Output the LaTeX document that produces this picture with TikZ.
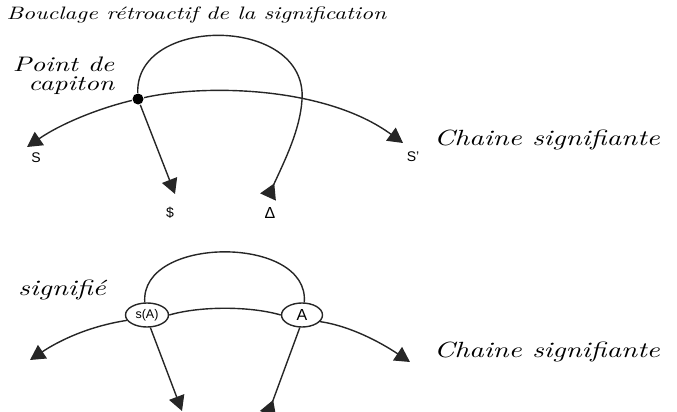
\documentclass[tikz,border=0pt]{standalone}
\usepackage{fontspec}
\setsansfont{Liberation Sans}
\newfontfamily\calfont{lmroman10-italic.otf}[FakeStretch=1.3]
\usetikzlibrary{arrows.meta,shapes.geometric}
\begin{document}
\begin{tikzpicture}[x=1pt,y=-1pt,
  line width=1.4pt, draw=black!85,
  cal/.style={font=\calfont\fontsize{22}{20}\selectfont, inner sep=0pt},
  ttl/.style={font=\calfont\fontsize{18}{20}\selectfont, inner sep=0pt},
  lab/.style={font=\sffamily\fontsize{14}{15}\selectfont, inner sep=0pt},
  tri/.style={-{Triangle[length=15pt,width=16pt]}},
  rtri/.style={{Triangle[reversed,length=15pt,width=17pt]}-},
  knot/.style={ellipse, draw, line width=1.4pt, fill=white, inner sep=0pt, font=\sffamily\fontsize{12.5}{13}\selectfont}
]
\useasboundingbox (0,0) rectangle (677,412);
% texts
\node[ttl, anchor=west] (title) at (6,15) {Bouclage rétroactif de la signification};
\node[cal, align=right, anchor=north east, font=\calfont\fontsize{21}{19}\selectfont] (pd) at (115,56) {Point de\\capiton};
\node[cal] (ch1) at (547,140) {Chaine signifiante};
\node[cal] (sig) at (62,290) {signifié};
\node[cal] (ch2) at (547,352) {Chaine signifiante};
% top diagram
\node[circle, fill=black, inner sep=0pt, minimum size=11pt] (pc) at (138,99) {};
\coordinate (sl) at (27,147);
\coordinate (sr) at (403,143);
\coordinate (sb) at (175,194);
\coordinate (db) at (268,197);
\coordinate (lr) at (302,100);
\draw[tri] (pc) .. controls (100,108) and (62,123) .. (sl);
\draw[tri] (pc) .. controls (205,84) and (325,86) .. (sr);
\draw[tri] (pc) -- (sb);
\draw[rtri] (db) .. controls (285,160) and (300,130) .. (lr) .. controls (308,15) and (135,15) .. (pc);
\node[lab] (S) at (36,158) {S};
\node[lab] (Sp) at (413,157) {S'};
\node[lab] (bS) at (170,213) {\$};
\node[lab, font=\sffamily\fontsize{16}{16}\selectfont] (D) at (270,213) {Δ};
% bottom diagram
\node[knot, minimum width=43pt, minimum height=24pt] (sA) at (147,315) {s(A)};
\node[knot, minimum width=41pt, minimum height=24pt, font=\sffamily\fontsize{16}{16}\selectfont] (A) at (302,315) {A};
\coordinate (bl) at (30,360);
\coordinate (br) at (410,362);
\coordinate (bd) at (182,411);
\coordinate (bu) at (268,414);
\draw (sA.100) .. controls (140,235) and (310,235) .. (A.80);
\draw (sA.east) .. controls (200,306) and (250,306) .. (A.west);
\draw[tri] (sA.195) .. controls (90,326) and (60,340) .. (bl);
\draw[tri] (A.-20) .. controls (350,326) and (380,342) .. (br);
\draw[tri] (sA.-75) -- (bd);
\draw[rtri] (bu) -- (A.-100);
\end{tikzpicture}
\end{document}
